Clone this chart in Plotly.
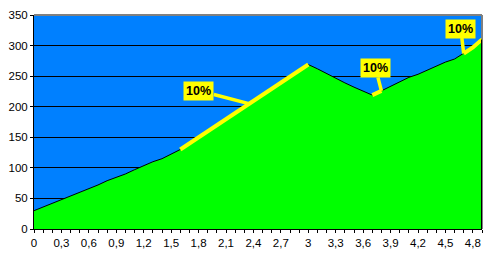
import plotly.graph_objects as go

x_vals = [round(i * 0.1, 1) for i in range(50)]
y_vals = [30, 36, 42, 47, 53, 59, 65, 72, 79, 84,
          90, 97, 104, 110, 115, 122, 130, 140, 150, 160,
          170, 180, 190, 200, 210, 220, 230, 240, 250, 260,
          269, 262, 254, 246, 239, 232, 225, 219, 226, 233,
          241, 248, 253, 260, 267, 273, 278, 287, 297, 310]

tick_vals = [round(i * 0.3, 1) for i in range(17)]
tick_text = [("%g" % v).replace(".", ",") for v in tick_vals]
y_ticks = [0, 50, 100, 150, 200, 250, 300, 350]

# segments highlighted in yellow (index ranges into the data)
segments = [(16, 30), (37, 38), (47, 49)]
# annotation anchor indices / labels
ann_points = [(23, "10%", -50, -13), (38, "10%", -6, -23), (47, "10%", -3, -25)]

fig = go.Figure()
fig.add_trace(go.Scatter(x=x_vals, y=y_vals, mode="lines", fill="tozeroy",
                         fillcolor="#00FF00", line=dict(color="black", width=1),
                         hoverinfo="skip", showlegend=False))
for a, b in segments:
    fig.add_trace(go.Scatter(x=x_vals[a:b + 1], y=y_vals[a:b + 1], mode="lines",
                             line=dict(color="#FFFF00", width=4),
                             hoverinfo="skip", showlegend=False))

# right edge of the area
fig.add_shape(type="line", x0=x_vals[-1], x1=x_vals[-1], y0=0, y1=y_vals[-1],
              line=dict(color="black", width=2))
# plot-area border top/right gray
fig.add_shape(type="line", xref="paper", yref="paper", x0=0, x1=1, y0=1, y1=1,
              line=dict(color="#808080", width=2))
fig.add_shape(type="line", xref="paper", yref="paper", x0=1, x1=1, y0=0, y1=1,
              line=dict(color="#808080", width=2), layer="below")

for idx, txt, ax, ay in ann_points:
    fig.add_annotation(x=x_vals[idx] + (0.05 if idx == 23 else 0.0),
                       y=y_vals[idx] + (5 if idx == 23 else 0),
                       text="<b>" + txt + "</b>", showarrow=True,
                       arrowhead=0, arrowwidth=3.5, arrowcolor="#FFFF00",
                       ax=ax, ay=ay, bgcolor="#FFFF00", borderpad=2,
                       font=dict(family="Liberation Sans, Arial", size=12.5, color="black"))

fig.update_layout(
    width=491, height=260,
    margin=dict(l=33, r=9, t=12, b=31),
    paper_bgcolor="white", plot_bgcolor="#0080FF",
    font=dict(family="Liberation Sans, Arial", size=11.5, color="black"),
    xaxis=dict(range=[0, 4.9], tickvals=tick_vals, ticktext=tick_text,
               ticks="outside", ticklen=3, tickcolor="black",
               minor=dict(dtick=0.1, tick0=0, ticks="outside", ticklen=3, tickcolor="black"),
               showgrid=False, zeroline=False, showline=True, linecolor="black", linewidth=1),
    yaxis=dict(range=[0, 350], tickvals=y_ticks, ticks="outside", ticklen=3,
               tickcolor="black", showgrid=True, gridcolor="black", gridwidth=1,
               zeroline=False, showline=True, linecolor="black", linewidth=1),
)
fig.write_html("out.html")
